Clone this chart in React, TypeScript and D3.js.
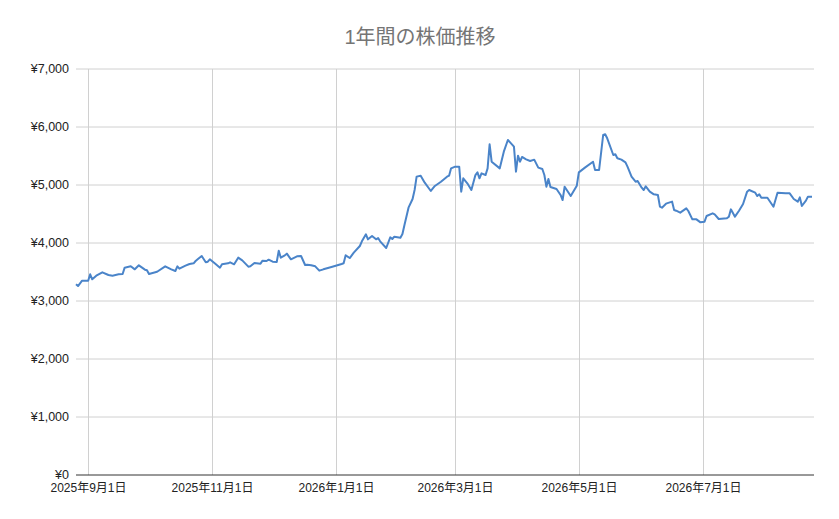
import * as d3 from "d3";

// 株価データ（日付と終値）
const dates = [
  "2025-08-26", "2025-08-27", "2025-08-29", "2025-09-01", "2025-09-02", "2025-09-03",
  "2025-09-05", "2025-09-08", "2025-09-11", "2025-09-13", "2025-09-16", "2025-09-18",
  "2025-09-19", "2025-09-22", "2025-09-24", "2025-09-26", "2025-09-29", "2025-09-30",
  "2025-10-01", "2025-10-05", "2025-10-09", "2025-10-12", "2025-10-14", "2025-10-15",
  "2025-10-16", "2025-10-19", "2025-10-21", "2025-10-23", "2025-10-24", "2025-10-25",
  "2025-10-27", "2025-10-29", "2025-10-30", "2025-10-31", "2025-11-03", "2025-11-05",
  "2025-11-06", "2025-11-09", "2025-11-10", "2025-11-12", "2025-11-14", "2025-11-16",
  "2025-11-19", "2025-11-20", "2025-11-22", "2025-11-25", "2025-11-26", "2025-11-28",
  "2025-11-29", "2025-12-01", "2025-12-03", "2025-12-04", "2025-12-05", "2025-12-07",
  "2025-12-08", "2025-12-10", "2025-12-13", "2025-12-15", "2025-12-17", "2025-12-18",
  "2025-12-20", "2025-12-22", "2025-12-24", "2025-12-26", "2025-12-30", "2026-01-04",
  "2026-01-05", "2026-01-06", "2026-01-08", "2026-01-10", "2026-01-13", "2026-01-14",
  "2026-01-16", "2026-01-17", "2026-01-19", "2026-01-21", "2026-01-22", "2026-01-23",
  "2026-01-26", "2026-01-28", "2026-01-29", "2026-01-30", "2026-02-02", "2026-02-03",
  "2026-02-04", "2026-02-06", "2026-02-08", "2026-02-09", "2026-02-10", "2026-02-12",
  "2026-02-14", "2026-02-17", "2026-02-19", "2026-02-22", "2026-02-25", "2026-02-26",
  "2026-02-27", "2026-03-01", "2026-03-03", "2026-03-04", "2026-03-05", "2026-03-07",
  "2026-03-09", "2026-03-11", "2026-03-12", "2026-03-13", "2026-03-14", "2026-03-16",
  "2026-03-17", "2026-03-18", "2026-03-19", "2026-03-23", "2026-03-25", "2026-03-27",
  "2026-03-29", "2026-03-30", "2026-03-31", "2026-04-01", "2026-04-02", "2026-04-03",
  "2026-04-05", "2026-04-07", "2026-04-09", "2026-04-11", "2026-04-13", "2026-04-14",
  "2026-04-15", "2026-04-16", "2026-04-17", "2026-04-20", "2026-04-22", "2026-04-23",
  "2026-04-24", "2026-04-27", "2026-04-30", "2026-05-01", "2026-05-04", "2026-05-08",
  "2026-05-09", "2026-05-11", "2026-05-13", "2026-05-14", "2026-05-15", "2026-05-18",
  "2026-05-19", "2026-05-20", "2026-05-22", "2026-05-24", "2026-05-25", "2026-05-27",
  "2026-05-29", "2026-05-30", "2026-06-01", "2026-06-02", "2026-06-03", "2026-06-05",
  "2026-06-07", "2026-06-09", "2026-06-10", "2026-06-11", "2026-06-13", "2026-06-16",
  "2026-06-17", "2026-06-18", "2026-06-20", "2026-06-23", "2026-06-24", "2026-06-26",
  "2026-06-28", "2026-06-30", "2026-07-02", "2026-07-03", "2026-07-06", "2026-07-07",
  "2026-07-09", "2026-07-13", "2026-07-14", "2026-07-15", "2026-07-17", "2026-07-19",
  "2026-07-21", "2026-07-23", "2026-07-24", "2026-07-27", "2026-07-28", "2026-07-29",
  "2026-07-30", "2026-08-02", "2026-08-05", "2026-08-07", "2026-08-11", "2026-08-13",
  "2026-08-15", "2026-08-17", "2026-08-18", "2026-08-19", "2026-08-21", "2026-08-22",
  "2026-08-24",
];

const prices = [
  3288, 3258, 3350, 3350, 3460, 3374,
  3437, 3495, 3448, 3437, 3460, 3466,
  3575, 3598, 3546, 3615, 3540, 3529,
  3466, 3505, 3598, 3546, 3517, 3598,
  3557, 3609, 3638, 3650, 3690, 3719,
  3776, 3667, 3678, 3719, 3633, 3575,
  3633, 3650, 3667, 3633, 3747, 3701,
  3592, 3598, 3655, 3644, 3695, 3690,
  3712, 3678, 3672, 3868, 3747, 3788,
  3816, 3719, 3770, 3776, 3621, 3626,
  3615, 3598, 3523, 3546, 3586, 3638,
  3650, 3788, 3741, 3833, 3948, 4029,
  4149, 4063, 4121, 4063, 4086, 4029,
  3914, 4098, 4069, 4109, 4092, 4155,
  4310, 4609, 4759, 4914, 5144, 5161,
  5040, 4897, 4983, 5057, 5144, 5161,
  5287, 5316, 5316, 4885, 5115, 5029,
  4914, 5172, 5218, 5115, 5201, 5172,
  5287, 5701, 5402, 5287, 5575, 5776,
  5701, 5661, 5230, 5506, 5402, 5483,
  5443, 5414, 5437, 5299, 5276, 5172,
  4971, 5103, 4966, 4931, 4828, 4741,
  4971, 4810, 4988, 5218, 5299, 5402,
  5259, 5259, 5862, 5874, 5805, 5517,
  5529, 5460, 5437, 5391, 5316, 5144,
  5057, 5069, 4954, 4914, 4977, 4885,
  4839, 4828, 4626, 4609, 4678, 4713,
  4569, 4557, 4523, 4598, 4552, 4408,
  4408, 4356, 4368, 4466, 4511, 4494,
  4414, 4425, 4454, 4580, 4454, 4557,
  4672, 4885, 4914, 4868, 4810, 4839,
  4781, 4781, 4626, 4868, 4856, 4856,
  4759, 4713, 4787, 4638, 4730, 4799,
  4799,
];

const yTicks = [0, 1000, 2000, 3000, 4000, 5000, 6000, 7000];
const xTickDates = ["2025-09-01", "2025-11-01", "2026-01-01", "2026-03-01", "2026-05-01", "2026-07-01"];
const xTickLabels = ["2025年9月1日", "2025年11月1日", "2026年1月1日", "2026年3月1日", "2026年5月1日", "2026年7月1日"];

const title = "1年間の株価推移";

const W = 839;
const H = 519;
const left = 76;
const right = 812;
const top = 69;
const bottom = 475;
const font = "'Liberation Sans', Arial, 'Noto Sans CJK JP', sans-serif";

const parse = d3.timeParse("%Y-%m-%d");

export default function App() {
  const data = dates.map((d, i) => [parse(d)!, prices[i]] as [Date, number]);

  const x = d3
    .scaleTime()
    .domain(d3.extent(data, (d) => d[0]) as [Date, Date])
    .range([left, right]);
  const y = d3.scaleLinear().domain([0, 7000]).range([bottom, top]);

  const line = d3
    .line<[Date, number]>()
    .x((d) => x(d[0]))
    .y((d) => y(d[1]));

  const fmt = d3.format(",");

  return (
    <svg
      width={W}
      height={H}
      style={{ position: "absolute", left: 0, top: 0, background: "#fff" }}
      fontFamily={font}
    >
      <rect width={W} height={H} fill="#fff" />
      <text x={420} y={44} textAnchor="middle" fontSize={20} fill="#757575">
        {title}
      </text>

      {/* horizontal grid + y labels */}
      {yTicks.map((t) => (
        <g key={t}>
          {t > 0 && (
            <line x1={left} x2={right + 2} y1={y(t)} y2={y(t)} stroke="#d0d0d0" strokeWidth={1} />
          )}
          <text x={69} y={y(t)} dy="0.35em" textAnchor="end" fontSize={12.5} fill="#222">
            {"¥" + fmt(t)}
          </text>
        </g>
      ))}

      {/* vertical grid + x labels */}
      {xTickDates.map((d, i) => {
        const xx = Math.round(x(parse(d)!)) + 0.5;
        return (
          <g key={d}>
            <line x1={xx} x2={xx} y1={top} y2={bottom} stroke="#d0d0d0" strokeWidth={1} />
            <text x={xx} y={492} textAnchor="middle" fontSize={12} fill="#222">
              {xTickLabels[i]}
            </text>
          </g>
        );
      })}

      <line x1={left} x2={right + 2} y1={bottom} y2={bottom} stroke="#333" strokeWidth={1} />

      <path d={line(data) ?? ""} fill="none" stroke="#4a84c9" strokeWidth={2} strokeLinejoin="round" />
    </svg>
  );
}
